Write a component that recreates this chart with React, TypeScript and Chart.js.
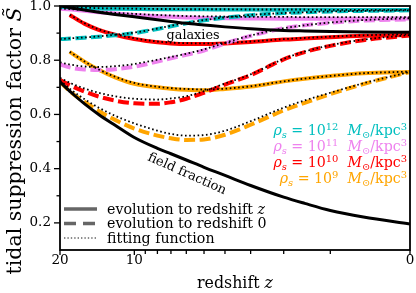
import React, { useEffect, useRef } from "react";
import { Chart, registerables } from "chart.js";

Chart.register(...registerables);

// ---------------- data ----------------
const Z_ALL = [20, 18, 16, 14, 12, 10, 8, 7, 6, 5, 4, 3, 2, 1.5, 1, 0.5, 0];
const Z_LATE = [18.3, 16, 14, 12, 10, 8, 7, 6, 5, 4, 3, 2, 1.5, 1, 0.5, 0];

const fieldFraction = [0.72, 0.68, 0.64, 0.6, 0.56, 0.515, 0.475, 0.455, 0.432, 0.405, 0.375, 0.338, 0.295, 0.272, 0.246, 0.222, 0.196];
const galaxies = [1.0, 0.993, 0.985, 0.977, 0.969, 0.96, 0.949, 0.943, 0.936, 0.93, 0.923, 0.916, 0.91, 0.908, 0.906, 0.904, 0.903];

const cyanToZ = [0.997, 0.995, 0.993, 0.991, 0.99, 0.989, 0.988, 0.988, 0.988, 0.988, 0.987, 0.987, 0.986, 0.986, 0.986, 0.985, 0.985];
const cyanToZFit = [0.997, 0.996, 0.994, 0.992, 0.991, 0.99, 0.989, 0.989, 0.988, 0.988, 0.988, 0.987, 0.987, 0.987, 0.986, 0.986, 0.986];
const cyanTo0 = [0.878, 0.88, 0.883, 0.887, 0.892, 0.9, 0.915, 0.925, 0.936, 0.947, 0.957, 0.966, 0.974, 0.977, 0.98, 0.982, 0.984];
const cyanTo0Fit = [0.878, 0.881, 0.884, 0.888, 0.894, 0.902, 0.917, 0.927, 0.938, 0.948, 0.958, 0.967, 0.974, 0.977, 0.98, 0.982, 0.984];

const violetToZ = [0.99, 0.987, 0.982, 0.977, 0.972, 0.967, 0.962, 0.96, 0.958, 0.956, 0.955, 0.954, 0.953, 0.953, 0.953, 0.953, 0.954];
const violetToZFit = [0.99, 0.988, 0.984, 0.979, 0.975, 0.971, 0.967, 0.965, 0.963, 0.962, 0.961, 0.96, 0.96, 0.959, 0.959, 0.959, 0.959];
const violetTo0 = [0.785, 0.772, 0.766, 0.764, 0.767, 0.776, 0.795, 0.807, 0.82, 0.836, 0.862, 0.89, 0.918, 0.929, 0.938, 0.946, 0.951];
const violetTo0Fit = [0.792, 0.783, 0.777, 0.775, 0.778, 0.786, 0.802, 0.812, 0.824, 0.84, 0.864, 0.891, 0.918, 0.929, 0.939, 0.948, 0.955];

const redToZ = [0.967, 0.935, 0.912, 0.894, 0.878, 0.866, 0.862, 0.86, 0.86, 0.862, 0.867, 0.876, 0.88, 0.885, 0.89, 0.893];
const redToZFit = [0.968, 0.937, 0.914, 0.896, 0.881, 0.869, 0.865, 0.863, 0.862, 0.864, 0.869, 0.878, 0.882, 0.887, 0.892, 0.896];
const redTo0 = [0.727, 0.705, 0.685, 0.666, 0.651, 0.641, 0.639, 0.645, 0.658, 0.68, 0.71, 0.745, 0.803, 0.83, 0.853, 0.874, 0.891];
const redTo0Fit = [0.735, 0.714, 0.696, 0.68, 0.667, 0.658, 0.655, 0.659, 0.667, 0.686, 0.714, 0.748, 0.805, 0.832, 0.855, 0.876, 0.893];

const orangeToZ = [0.831, 0.795, 0.765, 0.737, 0.713, 0.7, 0.695, 0.691, 0.689, 0.694, 0.703, 0.722, 0.732, 0.742, 0.752, 0.757];
const orangeToZFit = [0.831, 0.796, 0.766, 0.739, 0.716, 0.702, 0.697, 0.694, 0.692, 0.695, 0.704, 0.722, 0.732, 0.742, 0.752, 0.758];
const orangeTo0 = [0.72, 0.68, 0.647, 0.613, 0.58, 0.548, 0.522, 0.512, 0.506, 0.508, 0.525, 0.562, 0.615, 0.643, 0.675, 0.712, 0.757];
const orangeTo0Fit = [0.725, 0.69, 0.657, 0.625, 0.595, 0.567, 0.54, 0.528, 0.522, 0.524, 0.54, 0.575, 0.625, 0.652, 0.68, 0.715, 0.757];

const X_TICK_Z = [20, 10, 9, 8, 7, 6, 5, 4, 3, 2, 1, 0];
const X_TICK_LABELS = ["20", "10", "", "", "", "", "", "", "", "", "", "0"];
const Y_TICKS = [0.2, 0.3, 0.4, 0.5, 0.6, 0.7, 0.8, 0.9, 1.0];
const Y_TICK_LABELS = ["0.2", "", "0.4", "", "0.6", "", "0.8", "", "1.0"];

const RHO_EXPONENTS = ["12", "11", "10", "9"];
const LEGEND_LABELS = ["evolution to redshift ", "evolution to redshift 0", "fitting function"];
const GALAXIES_LABEL = "galaxies";
const FIELD_LABEL = "field fraction";
const GALAXIES_AT = { z: 5.6, v: 0.878 };
const FIELD_AT = { z: 5.96, v: 0.38 };

// ---------------- styles ----------------
const FAMILY = "'DejaVu Serif', serif";
const CYAN = "#00bfbf";
const VIOLET = "#ee82ee";
const RED = "#ff0000";
const ORANGE = "#ffa500";
const RHO_COLORS = [CYAN, VIOLET, RED, ORANGE];
const DASH = [11, 4.5];
const DOT = [1.6, 2.6];

const toX = (z: number) => Math.log10(1 + z);
const pts = (zs: number[], vs: number[]) => zs.map((z, i) => ({ x: toX(z), y: vs[i] }));

type Seg = { t: string; it?: boolean; sup?: boolean; sub?: boolean };

function segFont(s: Seg, size: number) {
  const sz = s.sup || s.sub ? size * 0.7 : size;
  return `${s.it ? "italic " : ""}${sz}px ${FAMILY}`;
}
function measureRich(ctx: CanvasRenderingContext2D, segs: Seg[], size: number) {
  let w = 0;
  for (const s of segs) {
    ctx.font = segFont(s, size);
    w += ctx.measureText(s.t).width;
  }
  return w;
}
function drawRich(ctx: CanvasRenderingContext2D, segs: Seg[], x: number, y: number, size: number, align: string) {
  const w = measureRich(ctx, segs, size);
  let cx = align === "right" ? x - w : align === "center" ? x - w / 2 : x;
  ctx.textAlign = "left";
  ctx.textBaseline = "alphabetic";
  for (const s of segs) {
    ctx.font = segFont(s, size);
    const dy = s.sup ? -size * 0.38 : s.sub ? size * 0.22 : 0;
    ctx.fillText(s.t, cx, y + dy);
    cx += ctx.measureText(s.t).width;
  }
}

const decor = {
  id: "decor",
  afterDatasetsDraw(chart: any) {
    const { ctx, chartArea: a, scales } = chart;
    const xs = scales.x;
    const ys = scales.y;
    ctx.save();
    ctx.strokeStyle = "#000";
    ctx.lineWidth = 1.8;
    ctx.setLineDash([]);
    ctx.strokeRect(a.left, a.top, a.right - a.left, a.bottom - a.top);
    ctx.lineWidth = 1.3;
    xs.ticks.forEach((t: any, i: number) => {
      const px = xs.getPixelForValue(t.value);
      const len = X_TICK_LABELS[i] ? 5 : 4;
      ctx.beginPath();
      ctx.moveTo(px, a.bottom);
      ctx.lineTo(px, a.bottom + len);
      ctx.stroke();
    });
    ys.ticks.forEach((t: any, i: number) => {
      const py = ys.getPixelForValue(t.value);
      const len = Y_TICK_LABELS[i] ? 6 : 3.5;
      ctx.beginPath();
      ctx.moveTo(a.left - len, py);
      ctx.lineTo(a.left, py);
      ctx.stroke();
    });
    ctx.restore();
  },
  afterDraw(chart: any) {
    const { ctx, chartArea: a, scales } = chart;
    const xs = scales.x;
    const ys = scales.y;
    ctx.save();
    ctx.fillStyle = "#000";

    // axis titles
    drawRich(ctx, [{ t: "redshift " }, { t: "z", it: true }], (a.left + a.right) / 2, 288, 15.8, "center");
    ctx.save();
    ctx.translate(21, 141);
    ctx.rotate(-Math.PI / 2);
    drawRich(ctx, [{ t: "tidal suppression factor " }, { t: "S\u0303", it: true }], 0, 0, 20.5, "center");
    ctx.restore();

    // annotations
    ctx.font = `12.8px ${FAMILY}`;
    ctx.textAlign = "center";
    ctx.textBaseline = "alphabetic";
    ctx.fillText(GALAXIES_LABEL, xs.getPixelForValue(toX(GALAXIES_AT.z)), ys.getPixelForValue(GALAXIES_AT.v));
    ctx.save();
    ctx.translate(xs.getPixelForValue(toX(FIELD_AT.z)), ys.getPixelForValue(FIELD_AT.v));
    ctx.rotate((24 * Math.PI) / 180);
    ctx.font = `13px ${FAMILY}`;
    ctx.textBaseline = "middle";
    ctx.fillText(FIELD_LABEL, 0, 0);
    ctx.restore();

    // rho legend
    RHO_EXPONENTS.forEach((e, i) => {
      ctx.fillStyle = RHO_COLORS[i];
      drawRich(
        ctx,
        [
          { t: "\u03c1", it: true },
          { t: "s", it: true, sub: true },
          { t: " = 10" },
          { t: e, sup: true },
          { t: "  " },
          { t: "M", it: true },
          { t: "\u2299", sub: true },
          { t: "/kpc" },
          { t: "3", sup: true },
        ],
        a.right - 3,
        a.top + 129 + i * 16,
        14.2,
        "right"
      );
    });

    // style legend
    const lx0 = a.left + 4;
    const lx1 = a.left + 37;
    const rows = [a.top + 203, a.top + 217.5, a.top + 232];
    ctx.strokeStyle = "#666666";
    ctx.lineCap = "butt";
    rows.forEach((ly, i) => {
      ctx.beginPath();
      if (i === 0) {
        ctx.lineWidth = 3.3;
        ctx.setLineDash([]);
      } else if (i === 1) {
        ctx.lineWidth = 3.3;
        ctx.setLineDash([12, 7]);
      } else {
        ctx.lineWidth = 1.4;
        ctx.setLineDash([1.4, 2]);
      }
      ctx.moveTo(lx0, ly);
      ctx.lineTo(lx1, ly);
      ctx.stroke();
      ctx.setLineDash([]);
      ctx.fillStyle = "#000";
      const segs: Seg[] = [{ t: LEGEND_LABELS[i] }];
      if (i === 0) segs.push({ t: "z", it: true });
      drawRich(ctx, segs, a.left + 47, ly + 4.5, 14.2, "left");
    });
    ctx.restore();
  },
};

function solid(data: any, color: string, order: number) {
  return { data, borderColor: color, borderWidth: 4, borderDash: [], pointRadius: 0, order, cubicInterpolationMode: "monotone" };
}
function dashed(data: any, color: string, order: number) {
  return { data, borderColor: color, borderWidth: 4, borderDash: DASH, pointRadius: 0, order, cubicInterpolationMode: "monotone" };
}
function dotted(data: any) {
  return { data, borderColor: "#000", borderWidth: 1.8, borderDash: DOT, pointRadius: 0, order: 1, cubicInterpolationMode: "monotone" };
}

export default function App() {
  const ref = useRef<HTMLCanvasElement>(null);
  useEffect(() => {
    document.body.style.margin = "0";
    const datasets: any[] = [
      solid(pts(Z_ALL, cyanToZ), CYAN, 3),
      dashed(pts(Z_ALL, cyanTo0), CYAN, 3),
      solid(pts(Z_ALL, violetToZ), VIOLET, 3),
      dashed(pts(Z_ALL, violetTo0), VIOLET, 3),
      solid(pts(Z_LATE, redToZ), RED, 3),
      dashed(pts(Z_ALL, redTo0), RED, 3),
      solid(pts(Z_LATE, orangeToZ), ORANGE, 3),
      dashed(pts(Z_ALL, orangeTo0), ORANGE, 3),
      { data: pts(Z_ALL, fieldFraction), borderColor: "#000", borderWidth: 3, pointRadius: 0, order: 2, cubicInterpolationMode: "monotone" },
      { data: pts(Z_ALL, galaxies), borderColor: "#000", borderWidth: 3, pointRadius: 0, order: 2, cubicInterpolationMode: "monotone" },
      dotted(pts(Z_ALL, cyanToZFit)),
      dotted(pts(Z_ALL, cyanTo0Fit)),
      dotted(pts(Z_ALL, violetToZFit)),
      dotted(pts(Z_ALL, violetTo0Fit)),
      dotted(pts(Z_LATE, redToZFit)),
      dotted(pts(Z_ALL, redTo0Fit)),
      dotted(pts(Z_LATE, orangeToZFit)),
      dotted(pts(Z_ALL, orangeTo0Fit)),
    ];
    const chart = new Chart(ref.current as HTMLCanvasElement, {
      type: "line",
      data: { datasets },
      options: {
        responsive: false,
        animation: false,
        devicePixelRatio: 1,
        layout: { padding: { left: 0, top: 6, right: 6, bottom: 0 } },
        plugins: { legend: { display: false }, tooltip: { enabled: false } },
        elements: { line: { borderCapStyle: "butt", fill: false } },
        scales: {
          x: {
            type: "linear",
            reverse: true,
            min: 0,
            max: toX(20),
            afterBuildTicks: (s: any) => {
              s.ticks = X_TICK_Z.map((z) => ({ value: toX(z) }));
            },
            afterFit: (s: any) => {
              s.height = 43;
              s.paddingLeft = 0;
              s.paddingRight = 0;
            },
            ticks: {
              autoSkip: false,
              maxRotation: 0,
              minRotation: 0,
              padding: 2,
              color: "#000",
              font: { family: FAMILY, size: 13.5 },
              callback: (_v: any, i: number) => X_TICK_LABELS[i],
            },
            grid: { display: false, drawTicks: false },
            border: { display: false },
          },
          y: {
            type: "linear",
            min: 0.1,
            max: 1.0,
            afterBuildTicks: (s: any) => {
              s.ticks = Y_TICKS.map((v) => ({ value: v }));
            },
            afterFit: (s: any) => {
              s.width = 60;
              s.paddingTop = 0;
              s.paddingBottom = 0;
            },
            ticks: {
              padding: 9,
              color: "#000",
              font: { family: FAMILY, size: 13.5 },
              callback: (_v: any, i: number) => Y_TICK_LABELS[i],
            },
            grid: { display: false, drawTicks: false },
            border: { display: false },
          },
        },
      } as any,
      plugins: [decor],
    });
    return () => chart.destroy();
  }, []);
  return (
    <div style={{ width: 416, height: 293 }}>
      <canvas ref={ref} width={416} height={293} style={{ display: "block", width: 416, height: 293 }} />
    </div>
  );
}
